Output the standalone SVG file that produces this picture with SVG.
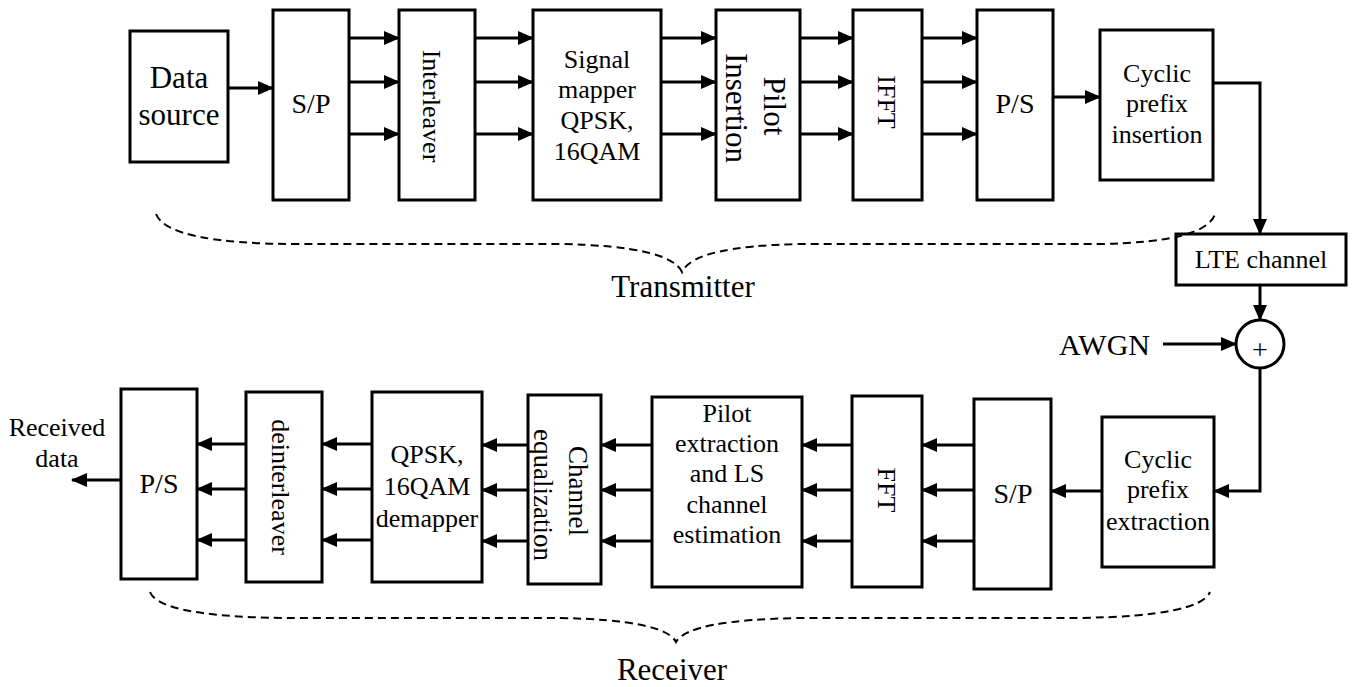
<svg xmlns="http://www.w3.org/2000/svg" width="1352" height="687" viewBox="0 0 1352 687">
<style>
.box{fill:#fff;stroke:#000;stroke-width:3}
.t{font-family:"Liberation Serif","Times New Roman",serif;fill:#000;text-anchor:middle}
.s26{font-size:26px}
.s28{font-size:28px}
.s31{font-size:31px}
.ln{fill:none;stroke:#000;stroke-width:3}
.ar{fill:none;stroke:#000;stroke-width:3;marker-end:url(#ah)}
.br{fill:none;stroke:#000;stroke-width:2;stroke-dasharray:8 5}
</style>
<defs>
<marker id="ah" markerWidth="16" markerHeight="14" refX="15" refY="7" orient="auto" markerUnits="userSpaceOnUse">
<path d="M0,0 L16,7 L0,14 z" fill="#000"/>
</marker>
</defs>
<rect width="1352" height="687" fill="#fff"/>

<g id="connectors">
<line class="ar" x1="228" y1="88" x2="273" y2="88"/>
<line class="ar" x1="349" y1="38" x2="399" y2="38"/>
<line class="ar" x1="349" y1="82" x2="399" y2="82"/>
<line class="ar" x1="349" y1="134" x2="399" y2="134"/>
<line class="ar" x1="475" y1="38" x2="533" y2="38"/>
<line class="ar" x1="475" y1="82" x2="533" y2="82"/>
<line class="ar" x1="475" y1="134" x2="533" y2="134"/>
<line class="ar" x1="661" y1="38" x2="716" y2="38"/>
<line class="ar" x1="661" y1="82" x2="716" y2="82"/>
<line class="ar" x1="661" y1="134" x2="716" y2="134"/>
<line class="ar" x1="800" y1="38" x2="853" y2="38"/>
<line class="ar" x1="800" y1="82" x2="853" y2="82"/>
<line class="ar" x1="800" y1="134" x2="853" y2="134"/>
<line class="ar" x1="922" y1="38" x2="977" y2="38"/>
<line class="ar" x1="922" y1="82" x2="977" y2="82"/>
<line class="ar" x1="922" y1="134" x2="977" y2="134"/>
<line class="ar" x1="1053" y1="97" x2="1100" y2="97"/>
<path class="ar" d="M1213,83 H1260 V234"/>
<line class="ar" x1="1260" y1="285" x2="1260" y2="320"/>
<line class="ar" x1="1163" y1="344" x2="1236" y2="344"/>
<path class="ar" d="M1260,368 V491 H1214"/>
<line class="ar" x1="1102" y1="491" x2="1051" y2="491"/>
<line class="ar" x1="974" y1="445" x2="922" y2="445"/>
<line class="ar" x1="974" y1="490" x2="922" y2="490"/>
<line class="ar" x1="974" y1="541" x2="922" y2="541"/>
<line class="ar" x1="852" y1="445" x2="802" y2="445"/>
<line class="ar" x1="852" y1="490" x2="802" y2="490"/>
<line class="ar" x1="852" y1="541" x2="802" y2="541"/>
<line class="ar" x1="652" y1="445" x2="601" y2="445"/>
<line class="ar" x1="652" y1="490" x2="601" y2="490"/>
<line class="ar" x1="652" y1="541" x2="601" y2="541"/>
<line class="ar" x1="528" y1="445" x2="482" y2="445"/>
<line class="ar" x1="528" y1="490" x2="482" y2="490"/>
<line class="ar" x1="528" y1="541" x2="482" y2="541"/>
<line class="ar" x1="372" y1="444" x2="322" y2="444"/>
<line class="ar" x1="372" y1="489" x2="322" y2="489"/>
<line class="ar" x1="372" y1="540" x2="322" y2="540"/>
<line class="ar" x1="246" y1="444" x2="197" y2="444"/>
<line class="ar" x1="246" y1="489" x2="197" y2="489"/>
<line class="ar" x1="246" y1="540" x2="197" y2="540"/>
<line class="ar" x1="121" y1="480" x2="72" y2="480"/>
</g>

<g id="tx-datasource"><rect class="box" x="130" y="31" width="98" height="131"/>
<text class="t s31" x="179" y="88">Data</text><text class="t s31" x="179" y="125">source</text></g>
<g id="tx-sp"><rect class="box" x="273" y="10" width="76" height="190"/>
<text class="t s28" x="311" y="113">S/P</text></g>
<g id="tx-interleaver"><rect class="box" x="399" y="10" width="76" height="190"/>
<text class="t s26" transform="translate(432,106) rotate(90)" y="9">Interleaver</text></g>
<g id="tx-mapper"><rect class="box" x="533" y="10" width="128" height="190"/>
<text class="t s26" x="597" y="68">Signal</text><text class="t s26" x="597" y="98">mapper</text>
<text class="t s26" x="597" y="129">QPSK,</text><text class="t s26" x="597" y="160">16QAM</text></g>
<g id="tx-pilot"><rect class="box" x="716" y="10" width="84" height="190"/>
<text class="t s31" transform="translate(774,106) rotate(90)" y="10">Pilot</text>
<text class="t s31" transform="translate(736,108) rotate(90)" y="10">Insertion</text></g>
<g id="tx-ifft"><rect class="box" x="853" y="10" width="69" height="190"/>
<text class="t s26" transform="translate(887,102) rotate(90)" y="9">IFFT</text></g>
<g id="tx-ps"><rect class="box" x="977" y="10" width="76" height="190"/>
<text class="t s28" x="1015" y="113">P/S</text></g>
<g id="tx-cp"><rect class="box" x="1100" y="30" width="113" height="150"/>
<text class="t s26" x="1157" y="82">Cyclic</text><text class="t s26" x="1157" y="112">prefix</text><text class="t s26" x="1157" y="143">insertion</text></g>
<g id="channel"><rect class="box" x="1176" y="234" width="170" height="51"/>
<text class="t s26" x="1261" y="268">LTE channel</text></g>
<g id="adder"><circle cx="1260" cy="344" r="24" fill="#fff" stroke="#000" stroke-width="3"/>
<text class="t s28" x="1260" y="359">+</text></g>
<g id="awgn"><text class="t" style="font-size:30px;text-anchor:end" x="1150" y="355">AWGN</text></g>

<g id="rx-cpext"><rect class="box" x="1102" y="417" width="112" height="150"/>
<text class="t s26" x="1158" y="468">Cyclic</text><text class="t s26" x="1158" y="498">prefix</text><text class="t s26" x="1158" y="530">extraction</text></g>
<g id="rx-sp"><rect class="box" x="974" y="399" width="77" height="190"/>
<text class="t s28" x="1013" y="503">S/P</text></g>
<g id="rx-fft"><rect class="box" x="852" y="396" width="70" height="191"/>
<text class="t s26" transform="translate(887,490) rotate(90)" y="9">FFT</text></g>
<g id="rx-pilot"><rect class="box" x="652" y="397" width="150" height="190"/>
<text class="t s26" x="727" y="422">Pilot</text><text class="t s26" x="727" y="452">extraction</text>
<text class="t s26" x="727" y="482">and LS</text><text class="t s26" x="727" y="513">channel</text><text class="t s26" x="727" y="543">estimation</text></g>
<g id="rx-eq"><rect class="box" x="528" y="395" width="73" height="189"/>
<text class="t" style="font-size:27px" transform="translate(578,491) rotate(90)" y="9">Channel</text>
<text class="t" style="font-size:27px" transform="translate(543,495) rotate(90)" y="9">equalization</text></g>
<g id="rx-demap"><rect class="box" x="372" y="392" width="110" height="190"/>
<text class="t s26" x="427" y="463">QPSK,</text><text class="t s26" x="427" y="495">16QAM</text><text class="t s26" x="427" y="527">demapper</text></g>
<g id="rx-deint"><rect class="box" x="246" y="392" width="76" height="190"/>
<text class="t s26" transform="translate(281,487) rotate(90)" y="9">deinterleaver</text></g>
<g id="rx-ps"><rect class="box" x="121" y="389" width="76" height="190"/>
<text class="t s28" x="159" y="493">P/S</text></g>
<g id="rx-out"><text class="t s26" x="57" y="436">Received</text><text class="t s26" x="57" y="467">data</text></g>

<g id="braces">
<path class="br" d="M156,214 Q168,244 300,244 L560,244 Q670,246 682,272 Q694,246 800,244 L1100,244 Q1206,242 1215,214"/>
<path class="br" d="M150,592 Q160,618 300,618 L560,618 Q665,620 676,642 Q688,620 800,618 L1080,618 Q1200,616 1210,592"/>
<text class="t s31" x="683" y="297">Transmitter</text>
<text class="t s31" x="672" y="680">Receiver</text>
</g>
</svg>
